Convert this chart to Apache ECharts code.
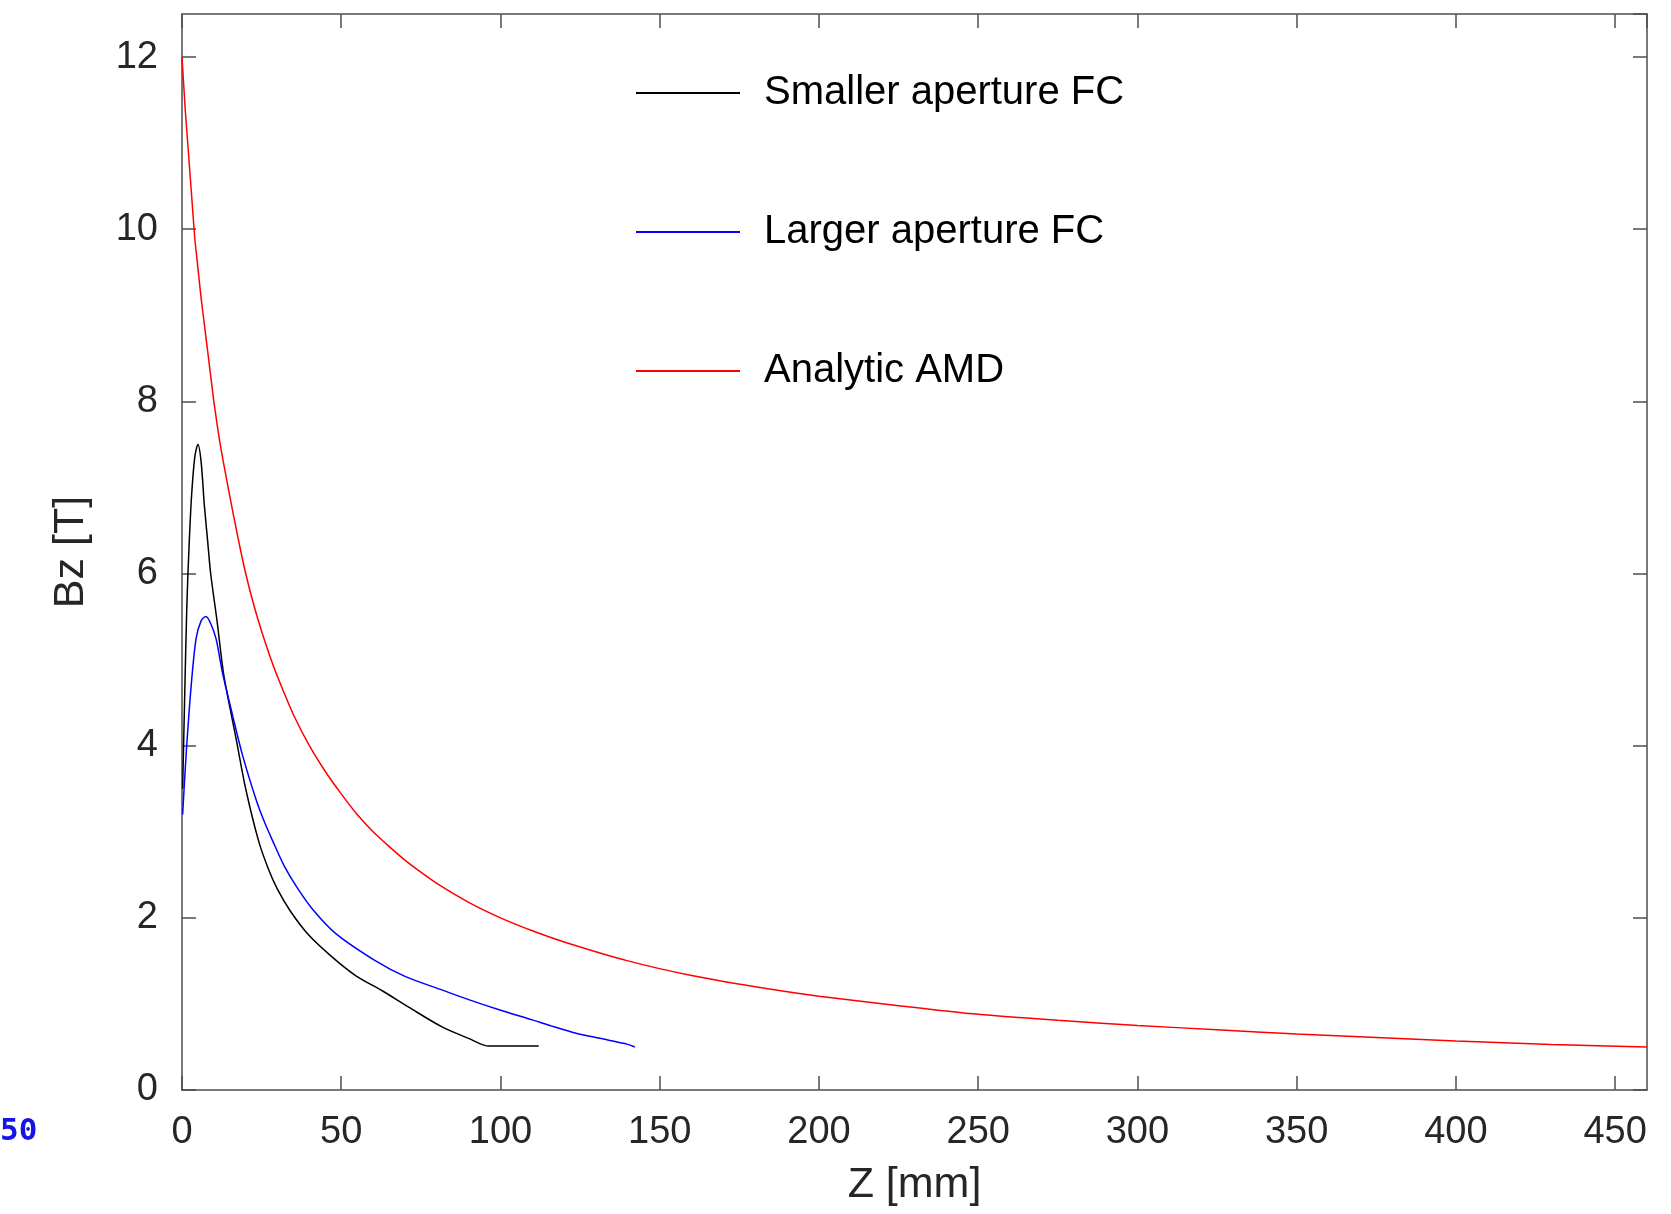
<!DOCTYPE html>
<html>
<head>
<meta charset="utf-8">
<script src="https://cdn.jsdelivr.net/npm/echarts@6/dist/echarts.min.js"></script>
<style>
  html, body { margin: 0; padding: 0; background: #fff; }
  #chart { width: 1671px; height: 1214px; }
</style>
</head>
<body>
<div id="chart"></div>
<script>
// values
const smallerZ = [0.2, 0.8, 1.5, 2.2, 3.0, 4.0, 5.0, 6.0, 7.0, 8.0, 9.0, 11.0, 13.0, 15.0, 17.0, 20.0, 24.0, 27.0, 30.0, 34.0, 39.8, 47.0, 54.5, 63.0, 71.3, 81.8, 90.0, 96.4, 112.0]
const smallerBz = [3.5, 4.5, 5.6, 6.3, 6.9, 7.35, 7.5, 7.3, 6.8, 6.4, 6.0, 5.45, 4.85, 4.45, 4.08, 3.5, 2.9, 2.58, 2.33, 2.08, 1.8, 1.55, 1.33, 1.15, 0.96, 0.73, 0.6, 0.51, 0.51]

const largerZ = [0.2, 1.3, 2.8, 4.4, 6.0, 7.5, 9.0, 10.7, 12.7, 15.9, 19.0, 23.2, 25.7, 28.4, 32.0, 36.0, 41.0, 48.2, 60.8, 70.0, 81.8, 90.0, 99.8, 110.0, 115.5, 123.7, 131.2, 140.0, 142.2]
const largerBz = [3.2, 3.9, 4.66, 5.24, 5.45, 5.5, 5.42, 5.24, 4.85, 4.35, 3.89, 3.38, 3.13, 2.9, 2.61, 2.36, 2.1, 1.82, 1.5, 1.32, 1.16, 1.05, 0.93, 0.815, 0.75, 0.66, 0.6, 0.53, 0.5]

const amdZ = [0, 1, 2, 3, 4, 5, 6, 7, 8, 9, 10, 12, 15, 17.5, 20, 22.5, 25, 27.5, 30, 35, 40, 45, 50, 55, 60, 65, 70, 75, 80, 90, 100, 110, 120, 140, 160, 180, 200, 225, 250, 275, 300, 325, 350, 375, 400, 430, 460]
const amdBz = [12.0, 11.4, 10.9, 10.4, 9.9, 9.55, 9.2, 8.9, 8.6, 8.3, 8.0, 7.5, 6.9, 6.43, 6.0, 5.64, 5.33, 5.05, 4.8, 4.36, 4.0, 3.7, 3.44, 3.2, 3.0, 2.83, 2.67, 2.53, 2.4, 2.18, 2.0, 1.85, 1.72, 1.5, 1.33, 1.2, 1.09, 0.98, 0.88, 0.81, 0.75, 0.7, 0.65, 0.61, 0.57, 0.53, 0.5]

const seriesNames = ['Smaller aperture FC', 'Larger aperture FC', 'Analytic AMD']

function pairs(xs, ys) {
  return xs.map((x, i) => [x, ys[i]])
}

const font = "'Liberation Sans', Arial, Helvetica, sans-serif"
const frameColor = '#4d4d4d'
const textColor = '#262626'

const chart = echarts.init(document.getElementById('chart'))

const tickStyle = {
  show: true,
  inside: true,
  length: 14,
  lineStyle: { color: frameColor, width: 1.5 }
}
const lineStyleFrame = { show: true, onZero: false, lineStyle: { color: frameColor, width: 1.5 } }

chart.setOption({
  animation: false,
  backgroundColor: '#ffffff',
  grid: {
    left: 182,
    right: 24,
    top: 14,
    bottom: 124,
    outerBoundsMode: 'none',
    containLabel: false,
    show: false
  },
  legend: {
    orient: 'vertical',
    left: 631,
    top: 68,
    icon: 'rect',
    itemWidth: 104,
    itemHeight: 2,
    itemGap: 99,
    data: seriesNames,
    textStyle: {
      color: '#000000',
      fontFamily: font,
      fontSize: 40,
      lineHeight: 40,
      padding: [0, 0, 0, 19]
    }
  },
  xAxis: [
    {
      type: 'value',
      position: 'bottom',
      min: 0,
      max: 460,
      interval: 50,
      name: 'Z [mm]',
      nameLocation: 'middle',
      nameGap: 74,
      nameTextStyle: { color: textColor, fontFamily: font, fontSize: 43 },
      axisLine: lineStyleFrame,
      axisTick: tickStyle,
      splitLine: { show: false },
      axisLabel: {
        color: textColor,
        fontFamily: font,
        fontSize: 38,
        margin: 24,
        showMaxLabel: false
      }
    },
    {
      type: 'value',
      position: 'top',
      min: 0,
      max: 460,
      interval: 50,
      axisLine: lineStyleFrame,
      axisTick: tickStyle,
      splitLine: { show: false },
      axisLabel: { show: false }
    }
  ],
  yAxis: [
    {
      type: 'value',
      position: 'left',
      min: 0,
      max: 12.5,
      interval: 2,
      name: 'Bz [T]',
      nameLocation: 'middle',
      nameGap: 89,
      nameTextStyle: { color: textColor, fontFamily: font, fontSize: 43 },
      axisLine: lineStyleFrame,
      axisTick: tickStyle,
      splitLine: { show: false },
      axisLabel: {
        color: textColor,
        fontFamily: font,
        fontSize: 38,
        margin: 24,
        showMaxLabel: false
      }
    },
    {
      type: 'value',
      position: 'right',
      min: 0,
      max: 12.5,
      interval: 2,
      axisLine: lineStyleFrame,
      axisTick: tickStyle,
      splitLine: { show: false },
      axisLabel: { show: false }
    }
  ],
  graphic: [
    {
      type: 'text',
      left: 0,
      top: 1116,
      style: {
        text: '50',
        fill: '#1414e6',
        font: "bold 31px 'DejaVu Sans Mono', monospace"
      }
    }
  ],
  series: [
    {
      name: seriesNames[0],
      type: 'line',
      symbol: 'none',
      smooth: 0.3,
      data: pairs(smallerZ, smallerBz),
      lineStyle: { color: '#000000', width: 1.5 },
      itemStyle: { color: '#000000' }
    },
    {
      name: seriesNames[1],
      type: 'line',
      symbol: 'none',
      smooth: 0.3,
      data: pairs(largerZ, largerBz),
      lineStyle: { color: '#0000ff', width: 1.5 },
      itemStyle: { color: '#0000ff' }
    },
    {
      name: seriesNames[2],
      type: 'line',
      symbol: 'none',
      smooth: 0.2,
      data: pairs(amdZ, amdBz),
      lineStyle: { color: '#ff0000', width: 1.5 },
      itemStyle: { color: '#ff0000' }
    }
  ]
})
</script>
</body>
</html>
